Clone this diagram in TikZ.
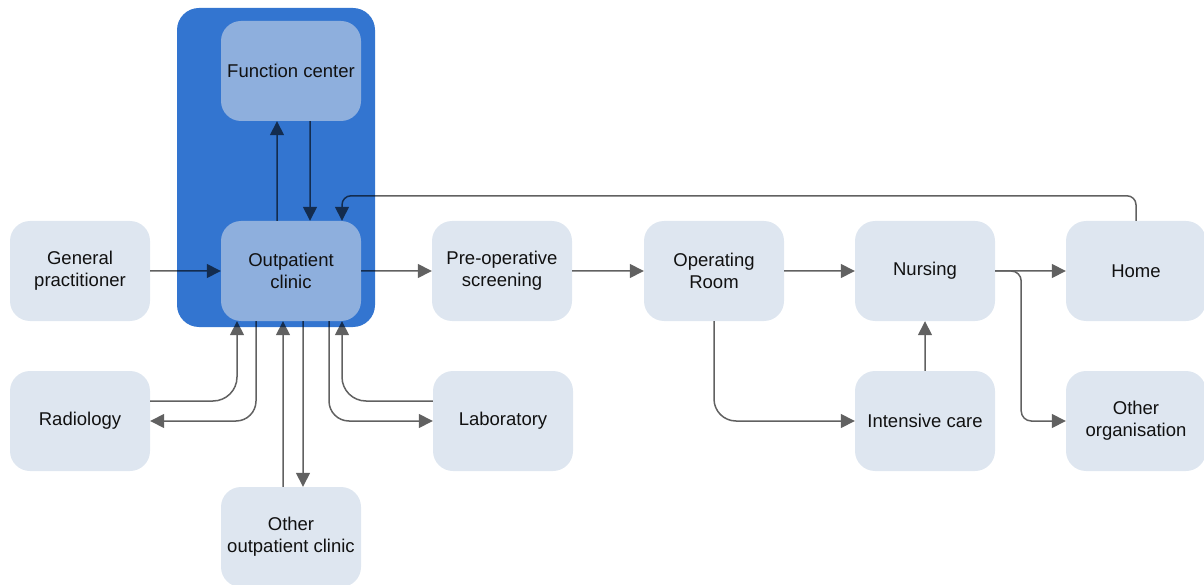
\documentclass[tikz,border=0pt]{standalone}
\usepackage{fontspec}
\setmainfont{Liberation Sans}
\usetikzlibrary{arrows.meta,calc}
\definecolor{bigblue}{HTML}{3375D0}
\definecolor{innerblue}{HTML}{8EAFDD}
\definecolor{lightbox}{HTML}{DEE6F0}
\definecolor{txt}{HTML}{111111}
\begin{document}
\begin{tikzpicture}[x=1pt,y=-1pt,
  box/.style={fill=lightbox,draw=none,rounded corners=20pt,minimum width=140pt,minimum height=100pt,
    align=center,text=txt,font=\fontsize{18.5}{22}\selectfont,inner sep=0pt},
  ibox/.style={box,fill=innerblue},
  arr/.style={draw=black,line width=1.5pt,-{Triangle[length=14pt,width=14pt]}},
  ]
\useasboundingbox (0,0) rectangle (1204,585);
\fill[bigblue,rounded corners=22pt] (177,8) rectangle (375,327);
\node[ibox] (fc) at (291,71) {Function center};
\node[ibox] (oc) at (291,271) {Outpatient\\clinic};
\node[box] (gp) at (80,271) {General\\practitioner};
\node[box] (pre) at (502,271) {Pre-operative\\screening};
\node[box] (or) at (714,271) {Operating\\Room};
\node[box] (nur) at (925,271) {Nursing};
\node[box] (home) at (1136,271) {Home};
\node[box] (rad) at (80,421) {Radiology};
\node[box] (lab) at (503,421) {Laboratory};
\node[box] (ic) at (925,421) {Intensive care};
\node[box] (org) at (1136,421) {Other\\organisation};
\node[box] (oo) at (291,537) {Other\\outpatient clinic};
\begin{scope}[transparency group,opacity=0.62]
\draw[arr] (gp.east) -- (oc.west);
\draw[arr] (oc.east) -- (pre.west);
\draw[arr] (pre.east) -- (or.west);
\draw[arr] (or.east) -- (nur.west);
\draw[arr] (nur.east) -- (home.west);
\draw[arr,rounded corners=10pt] (nur.east) -- ++(26,0) |- (org.west);
\draw[arr,rounded corners=22pt] (or.south) |- (ic.west);
\draw[arr] (ic.north) -- (nur.south);
\draw[arr,rounded corners=9pt] (home.north) -- ++(0,-25) -| ($(oc.north)+(51,0)$);
\draw[arr] ($(oc.north)+(-14,0)$) -- ($(fc.south)+(-14,0)$);
\draw[arr] ($(fc.south)+(19,0)$) -- ($(oc.north)+(19,0)$);
\draw[arr,rounded corners=24pt] ($(rad.east)+(0,-20)$) -| ($(oc.south)+(-54,0)$);
\draw[arr,rounded corners=20pt] ($(oc.south)+(-35,0)$) |- (rad.east);
\draw[arr] ($(oo.north)+(-8,0)$) -- ($(oc.south)+(-8,0)$);
\draw[arr] ($(oc.south)+(12,0)$) -- ($(oo.north)+(12,0)$);
\draw[arr,rounded corners=20pt] ($(oc.south)+(38,0)$) |- (lab.west);
\draw[arr,rounded corners=24pt] ($(lab.west)+(0,-20)$) -| ($(oc.south)+(51,0)$);
\end{scope}
\end{tikzpicture}
\end{document}
